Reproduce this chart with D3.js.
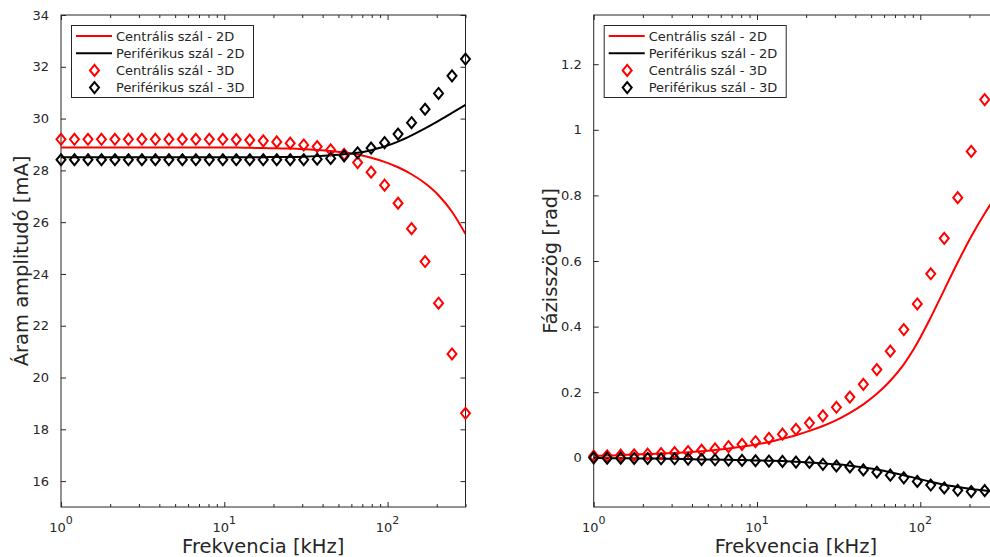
<!DOCTYPE html>
<html>
<head>
<meta charset="utf-8">
<script src="https://cdn.jsdelivr.net/npm/d3@7"></script>
<style>
  html, body { margin: 0; padding: 0; background: #fff; overflow: hidden; }
  svg { display: block; font-family: "DejaVu Sans", sans-serif; }
</style>
</head>
<body>
<svg id="fig" width="990" height="557"></svg>
<script>
// Frequencies (kHz), logarithmically spaced 1 … 300
const freq = [1, 1.209, 1.463, 1.769, 2.139, 2.587, 3.129, 3.784, 4.577, 5.535,
  6.694, 8.096, 9.791, 11.84, 14.32, 17.32, 20.95, 25.33, 30.64, 37.05,
  44.81, 54.19, 65.54, 79.26, 95.86, 115.9, 140.2, 169.6, 205.1, 248.0, 300];

// Current amplitude [mA]
const ampCentral2D = [28.88, 28.88, 28.88, 28.88, 28.88, 28.88, 28.88, 28.88, 28.88, 28.88,
  28.88, 28.88, 28.88, 28.88, 28.87, 28.86, 28.85, 28.84, 28.82, 28.79,
  28.75, 28.69, 28.61, 28.49, 28.33, 28.12, 27.85, 27.50, 27.04, 26.40, 25.54];
const ampPeripheral2D = [28.51, 28.51, 28.51, 28.51, 28.51, 28.51, 28.51, 28.51, 28.51, 28.51,
  28.51, 28.51, 28.51, 28.51, 28.51, 28.51, 28.52, 28.52, 28.53, 28.55,
  28.58, 28.62, 28.68, 28.78, 28.92, 29.11, 29.35, 29.62, 29.91, 30.22, 30.53];
const ampCentral3D = [29.20, 29.20, 29.20, 29.20, 29.20, 29.20, 29.20, 29.20, 29.20, 29.20,
  29.20, 29.20, 29.20, 29.19, 29.17, 29.14, 29.10, 29.05, 28.98, 28.92,
  28.79, 28.62, 28.30, 27.93, 27.43, 26.73, 25.75, 24.48, 22.87, 20.91, 18.62];
const ampPeripheral3D = [28.41, 28.41, 28.41, 28.41, 28.41, 28.41, 28.41, 28.41, 28.41, 28.41,
  28.41, 28.41, 28.41, 28.41, 28.41, 28.41, 28.41, 28.41, 28.41, 28.43,
  28.46, 28.56, 28.68, 28.86, 29.07, 29.40, 29.84, 30.36, 30.97, 31.65, 32.30];

// Phase angle [rad]
const phCentral2D = [0.006, 0.007, 0.008, 0.010, 0.011, 0.013, 0.015, 0.017, 0.020, 0.024,
  0.028, 0.034, 0.040, 0.048, 0.058, 0.069, 0.082, 0.097, 0.115, 0.137,
  0.163, 0.195, 0.235, 0.285, 0.350, 0.428, 0.512, 0.596, 0.675, 0.745, 0.808];
const phPeripheral2D = [0.000, -0.001, -0.001, -0.002, -0.002, -0.003, -0.003, -0.004, -0.005, -0.005,
  -0.006, -0.007, -0.008, -0.009, -0.010, -0.012, -0.014, -0.017, -0.020, -0.024,
  -0.029, -0.036, -0.044, -0.053, -0.063, -0.073, -0.082, -0.089, -0.095, -0.100, -0.105];
const phCentral3D = [0.005, 0.006, 0.008, 0.009, 0.011, 0.013, 0.016, 0.019, 0.023, 0.027,
  0.034, 0.041, 0.049, 0.059, 0.072, 0.087, 0.106, 0.128, 0.154, 0.185,
  0.224, 0.269, 0.325, 0.391, 0.469, 0.561, 0.669, 0.793, 0.934, 1.092, 1.270];
const phPeripheral3D = [0.000, -0.001, -0.001, -0.002, -0.002, -0.003, -0.003, -0.004, -0.005, -0.006,
  -0.007, -0.008, -0.009, -0.010, -0.011, -0.013, -0.014, -0.020, -0.025, -0.028,
  -0.037, -0.044, -0.053, -0.061, -0.072, -0.083, -0.092, -0.099, -0.103, -0.100, -0.098];

const legendLabels = ["Centrális szál - 2D", "Periférikus szál - 2D",
  "Centrális szál - 3D", "Periférikus szál - 3D"];
const xMajorTicks = [1, 10, 100];
const xMinorTicks = [2, 3, 4, 5, 6, 7, 8, 9, 20, 30, 40, 50, 60, 70, 80, 90, 200, 300];
const ampTicks = [16, 18, 20, 22, 24, 26, 28, 30, 32, 34];
const phTicks = [0, 0.2, 0.4, 0.6, 0.8, 1, 1.2];

const AX = "#262626";
const svg = d3.select("#fig");

function panel(opt) {
  const {left, width, top, height, yDomain, yTicks, yFmt, series, yLabel, yLabelX} = opt;
  const x = d3.scaleLog().domain([1, 300]).range([left, left + width]);
  const y = d3.scaleLinear().domain(yDomain).range([top + height, top]);
  const g = svg.append("g");

  const clipId = "clip" + Math.round(left);
  g.append("clipPath").attr("id", clipId).append("rect")
    .attr("x", left).attr("y", top).attr("width", width).attr("height", height);

  // Inward ticks on all four sides of the boxed axes
  const majorLen = 5, minorLen = 3;
  const bottomAx = g.append("g").attr("transform", `translate(0,${top + height})`)
    .call(d3.axisBottom(x).tickValues(xMajorTicks).tickSizeInner(-majorLen).tickSizeOuter(0).tickFormat(""));
  const bottomMin = g.append("g").attr("transform", `translate(0,${top + height})`)
    .call(d3.axisBottom(x).tickValues(xMinorTicks).tickSizeInner(-minorLen).tickSizeOuter(0).tickFormat(""));
  const topAx = g.append("g").attr("transform", `translate(0,${top})`)
    .call(d3.axisTop(x).tickValues(xMajorTicks).tickSizeInner(-majorLen).tickSizeOuter(0).tickFormat(""));
  const topMin = g.append("g").attr("transform", `translate(0,${top})`)
    .call(d3.axisTop(x).tickValues(xMinorTicks).tickSizeInner(-minorLen).tickSizeOuter(0).tickFormat(""));
  const leftAx = g.append("g").attr("transform", `translate(${left},0)`)
    .call(d3.axisLeft(y).tickValues(yTicks).tickSizeInner(-majorLen).tickSizeOuter(0).tickPadding(7 + majorLen).tickFormat(yFmt));
  const rightAx = g.append("g").attr("transform", `translate(${left + width},0)`)
    .call(d3.axisRight(y).tickValues(yTicks).tickSizeInner(-majorLen).tickSizeOuter(0).tickFormat(""));

  [bottomAx, bottomMin, topAx, topMin, leftAx, rightAx].forEach(a => {
    a.selectAll(".domain").remove();
    a.selectAll("line").attr("stroke", AX).attr("stroke-width", 1);
  });
  leftAx.selectAll("text").attr("fill", AX).attr("font-size", 13)
    .attr("font-family", "DejaVu Sans");

  // Box
  g.append("rect").attr("x", left).attr("y", top).attr("width", width).attr("height", height)
    .attr("fill", "none").attr("stroke", AX).attr("stroke-width", 1);

  // x tick labels 10^n
  xMajorTicks.forEach((t, i) => {
    const txt = g.append("text").attr("x", x(t)).attr("y", top + height + 25)
      .attr("text-anchor", "middle").attr("fill", AX).attr("font-size", 13);
    txt.append("tspan").text("10");
    txt.append("tspan").attr("font-size", 11).attr("dy", -8.5).text(String(i));
  });

  // Axis labels
  g.append("text").attr("x", left + width / 2).attr("y", 553)
    .attr("text-anchor", "middle").attr("fill", AX).attr("font-size", 19.5)
    .text("Frekvencia [kHz]");
  g.append("text").attr("transform", `translate(${yLabelX},${top + height / 2}) rotate(-90)`)
    .attr("text-anchor", "middle").attr("fill", AX).attr("font-size", 19.5)
    .text(yLabel);

  const plot = g.append("g").attr("clip-path", `url(#${clipId})`);
  const line = d3.line().x((d, i) => x(freq[i])).y(d => y(d)).curve(d3.curveMonotoneX);
  const diamond = (cx, cy) => `M${cx},${cy - 5.5}L${cx + 4.5},${cy}L${cx},${cy + 5.5}L${cx - 4.5},${cy}Z`;

  // 2D model curves
  series.lines.forEach(s => {
    plot.append("path").datum(s.values).attr("d", line)
      .attr("fill", "none").attr("stroke", s.color).attr("stroke-width", 2);
  });
  // 3D model points
  const markG = g.append("g");
  series.points.forEach(s => {
    markG.append("g").selectAll("path").data(s.values).join("path")
      .attr("d", (d, i) => diamond(x(freq[i]), y(d)))
      .attr("fill", "none").attr("stroke", s.color).attr("stroke-width", 2);
  });

  // Legend
  const lx = left + 10, ly = top + 10;
  const lg = g.append("g");
  lg.append("rect").attr("x", lx + 0.5).attr("y", ly + 0.5).attr("width", 182).attr("height", 72)
    .attr("fill", "#fff").attr("stroke", AX).attr("stroke-width", 1);
  const entries = [
    {type: "line", color: "#ff0000"}, {type: "line", color: "#000"},
    {type: "mark", color: "#ff0000"}, {type: "mark", color: "#000"}
  ];
  entries.forEach((e, i) => {
    const cy = ly + 11 + i * 17.2;
    if (e.type === "line") {
      lg.append("line").attr("x1", lx + 5).attr("x2", lx + 41).attr("y1", cy).attr("y2", cy)
        .attr("stroke", e.color).attr("stroke-width", 2);
    } else {
      lg.append("path").attr("d", diamond(lx + 23.5, cy))
        .attr("fill", "none").attr("stroke", e.color).attr("stroke-width", 2);
    }
    lg.append("text").attr("x", lx + 45).attr("y", cy + 4.5).attr("fill", AX)
      .attr("font-size", 13).text(legendLabels[i]);
  });
}

panel({
  left: 61, width: 404.5, top: 15, height: 492,
  yDomain: [15, 34], yTicks: ampTicks, yFmt: d3.format("d"),
  yLabel: "Áram amplitudó [mA]", yLabelX: 28,
  series: {
    lines: [{values: ampCentral2D, color: "#ff0000"}, {values: ampPeripheral2D, color: "#000"}],
    points: [{values: ampCentral3D, color: "#ff0000"}, {values: ampPeripheral3D, color: "#000"}]
  }
});

panel({
  left: 593.7, width: 404.5, top: 15, height: 492,
  yDomain: [-0.15, 1.35], yTicks: phTicks, yFmt: d => (d === 0 ? "0" : String(+d.toFixed(1))),
  yLabel: "Fázisszög [rad]", yLabelX: 557,
  series: {
    lines: [{values: phCentral2D, color: "#ff0000"}, {values: phPeripheral2D, color: "#000"}],
    points: [{values: phCentral3D, color: "#ff0000"}, {values: phPeripheral3D, color: "#000"}]
  }
});
</script>
</body>
</html>
